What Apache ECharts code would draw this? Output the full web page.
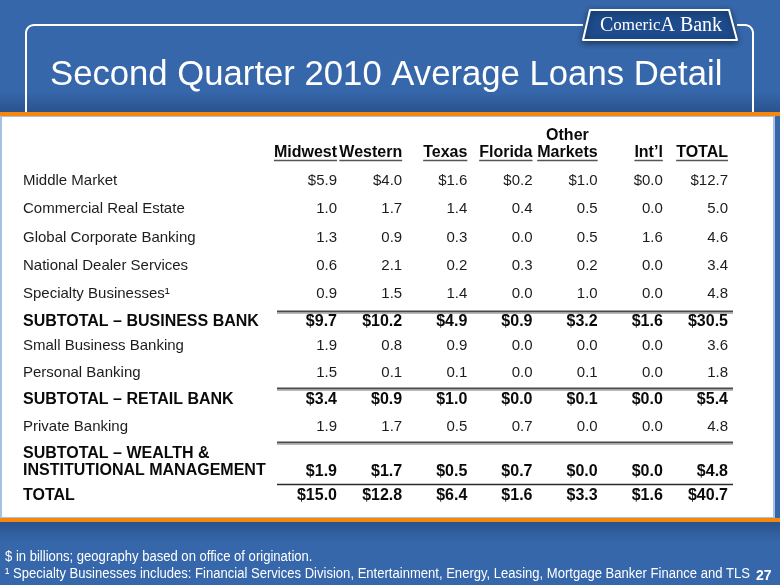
<!DOCTYPE html>
<html><head><meta charset="utf-8">
<script src="https://cdn.jsdelivr.net/npm/echarts@6/dist/echarts.min.js"></script>
<style>html,body{margin:0;padding:0;background:#3667AA}#c{width:780px;height:585px}</style>
</head><body><div id="c"></div>
<script>
// ---------------- DATA ----------------
const titleText = 'Second Quarter 2010 Average Loans Detail';
const columns = ['Midwest', 'Western', 'Texas', 'Florida', 'Other\nMarkets', 'Int’l', 'TOTAL'];
const rowLabels = [
  'Middle Market',
  'Commercial Real Estate',
  'Global Corporate Banking',
  'National Dealer Services',
  'Specialty Businesses¹',
  'SUBTOTAL – BUSINESS BANK',
  'Small Business Banking',
  'Personal Banking',
  'SUBTOTAL – RETAIL BANK',
  'Private Banking',
  'SUBTOTAL – WEALTH &\nINSTITUTIONAL MANAGEMENT',
  'TOTAL'
];
const midwest      = [5.9, 1.0, 1.3, 0.6, 0.9, 9.7, 1.9, 1.5, 3.4, 1.9, 1.9, 15.0];
const western      = [4.0, 1.7, 0.9, 2.1, 1.5, 10.2, 0.8, 0.1, 0.9, 1.7, 1.7, 12.8];
const texas        = [1.6, 1.4, 0.3, 0.2, 1.4, 4.9, 0.9, 0.1, 1.0, 0.5, 0.5, 6.4];
const florida      = [0.2, 0.4, 0.0, 0.3, 0.0, 0.9, 0.0, 0.0, 0.0, 0.7, 0.7, 1.6];
const otherMarkets = [1.0, 0.5, 0.5, 0.2, 1.0, 3.2, 0.0, 0.1, 0.1, 0.0, 0.0, 3.3];
const intl         = [0.0, 0.0, 1.6, 0.0, 0.0, 1.6, 0.0, 0.0, 0.0, 0.0, 0.0, 1.6];
const total        = [12.7, 5.0, 4.6, 3.4, 4.8, 30.5, 3.6, 1.8, 5.4, 4.8, 4.8, 40.7];
const dollarRows = [0, 5, 8, 10, 11];
const boldRows = [5, 8, 10, 11];
const ruledRows = [5, 8, 10, 11];
const footnotes = [
  '$ in billions; geography based on office of origination.',
  '¹ Specialty Businesses includes: Financial Services Division, Entertainment, Energy, Leasing, Mortgage Banker Finance and TLS'
];
const pageNumber = '27';
const seriesValues = [midwest, western, texas, florida, otherMarkets, intl, total];

// ---------------- LAYOUT / STYLE ----------------
const FONT = '"Liberation Sans", Arial, Helvetica, sans-serif';
const SERIF = '"Liberation Serif", "DejaVu Serif", serif';
const BLUE = '#3667AA';
const ORANGE = '#F5870F';
const GRID_LEFT = 337, GRID_WIDTH = 391, LABEL_X = 23;
const sections = [
  { rows: [null, 0, 1, 2, 3, 4, 5], top: 138.9, height: 197.2 },
  { rows: [6, 7, 8, 9], top: 332.5, height: 108 },
  { rows: [10, 11], top: 460, height: 48 }
];
const ruleOffset = { 5: 11, 8: 12, 10: 30, 11: 12 };

const mctx = document.createElement('canvas').getContext('2d');
function textW(str, font) { mctx.font = font; return mctx.measureText(str).width; }

const headerFont = 'bold 16px ' + FONT;

const grids = [], xAxes = [], yAxes = [], series = [];
sections.forEach((sec, si) => {
  grids.push({ left: GRID_LEFT, width: GRID_WIDTH, top: sec.top, height: sec.height });
  xAxes.push({ type: 'category', gridIndex: si, data: columns, boundaryGap: false, show: false });
  yAxes.push({
    type: 'category', gridIndex: si, inverse: true, z: 10,
    data: sec.rows.map(r => r === null ? '' : rowLabels[r]),
    axisLine: { show: false }, axisTick: { show: false }, splitLine: { show: false },
    axisLabel: {
      interval: 0, align: 'left', margin: GRID_LEFT - LABEL_X,
      formatter: (v, idx) => {
        const r = sec.rows[idx];
        if (r === null || r === undefined) return '';
        if (!boldRows.includes(r)) return '{n|' + v + '}';
        const lines = v.split('\n');
        if (lines.length > 1) return lines.map(l => '{b|' + l + '}').join('\n') + '\n{sp| }';
        return '{b|' + v + '}';
      },
      rich: {
        n: { fontFamily: FONT, fontSize: 15, color: '#1c1c1c' },
        b: { fontFamily: FONT, fontSize: 16, fontWeight: 'bold', color: '#0a0a0a', lineHeight: 17 },
        sp: { fontSize: 10, lineHeight: 20 }
      }
    }
  });
  const data = [];
  sec.rows.forEach((r, j) => {
    if (r === null) return;
    seriesValues.forEach((arr, c) => data.push([c, j, arr[r], r]));
  });
  series.push({
    type: 'custom', xAxisIndex: si, yAxisIndex: si, z: 10, silent: true,
    encode: { x: 0, y: 1 }, data,
    renderItem: (params, api) => {
      const c = api.value(0), j = api.value(1), v = api.value(2), r = api.value(3);
      const p = api.coord([c, j]);
      const bold = boldRows.includes(r);
      const txt = (dollarRows.includes(r) ? '$' : '') + v.toFixed(1);
      return {
        type: 'text', x: p[0], y: p[1],
        style: {
          text: txt, align: 'right', verticalAlign: 'middle',
          font: (bold ? 'bold 16px ' : '15px ') + FONT,
          fill: bold ? '#0a0a0a' : '#1c1c1c'
        }
      };
    }
  });
  const ruleData = [];
  sec.rows.forEach((r, j) => { if (r !== null && ruledRows.includes(r)) ruleData.push([0, j, r]); });
  if (ruleData.length) {
    series.push({
      type: 'custom', xAxisIndex: si, yAxisIndex: si, z: 9, silent: true,
      encode: { x: 0, y: 1 }, data: ruleData,
      renderItem: (params, api) => {
        const j = api.value(1), r = api.value(2);
        const a = api.coord([0, j]), b = api.coord([columns.length - 1, j]);
        const y = Math.round(a[1] - ruleOffset[r]) + 0.5;
        const x1 = a[0] - 60, x2 = b[0] + 5;
        const last = r === rowLabels.length - 1;
        if (last) {
          return { type: 'line', shape: { x1, y1: y, x2, y2: y }, style: { stroke: '#2a2a2a', lineWidth: 1.5 } };
        }
        return {
          type: 'group', children: [
            { type: 'line', shape: { x1, y1: y, x2, y2: y }, style: { stroke: '#4a4a4a', lineWidth: 2 } },
            { type: 'line', shape: { x1, y1: y + 2, x2, y2: y + 2 }, style: { stroke: '#b8b8b8', lineWidth: 1 } }
          ]
        };
      }
    });
  }
});

series.push({
  type: 'custom', xAxisIndex: 0, yAxisIndex: 0, z: 10, silent: true,
  encode: { x: 0, y: 1 },
  data: columns.map((_, c) => [c, 0]),
  renderItem: (params, api) => {
    const c = api.value(0);
    const p = api.coord([c, 0]);
    const lines = columns[c].split('\n');
    const ws = lines.map(l => textW(l, headerFont));
    const maxW = Math.max(...ws), lastW = ws[ws.length - 1];
    const cx = p[0] - maxW / 2;
    const uy = Math.round(p[1] + 7) + 0.5;
    return {
      type: 'group', children: [
        { type: 'text', x: cx, y: p[1] + 8, style: { text: columns[c], align: 'center', verticalAlign: 'bottom', lineHeight: 17, font: headerFont, fill: '#0a0a0a' } },
        { type: 'line', shape: { x1: cx - lastW / 2, y1: uy, x2: cx + lastW / 2, y2: uy }, style: { stroke: '#555', lineWidth: 1.5 } }
      ]
    };
  }
});

const FN_FONT = '14px ' + FONT;
const fnScale = 745 / textW(footnotes[1], FN_FONT);

function corner(cx, cy, r, a0, a1, n) {
  const pts = [];
  for (let i = 0; i <= n; i++) {
    const a = a0 + (a1 - a0) * i / n;
    pts.push([cx + r * Math.cos(a), cy + r * Math.sin(a)]);
  }
  return pts;
}
const leftFrame = [[583, 25]].concat(corner(34, 33, 8, -Math.PI / 2, -Math.PI, 8)).concat([[26, 112]]);
const rightFrame = [[737, 25]].concat(corner(745, 33, 8, -Math.PI / 2, 0, 8)).concat([[753, 112]]);
const grad = (c0, c1) => ({ type: 'linear', x: 0, y: 0, x2: 0, y2: 1, colorStops: [{ offset: 0, color: c0 }, { offset: 1, color: c1 }] });

const graphic = [
  { type: 'rect', z: 0, shape: { x: 0, y: 92, width: 780, height: 20 }, style: { fill: grad('rgba(10,30,70,0)', 'rgba(10,30,70,0.28)') } },
  { type: 'polyline', z: 1, shape: { points: leftFrame }, style: { stroke: '#ffffff', lineWidth: 2, fill: null } },
  { type: 'polyline', z: 1, shape: { points: rightFrame }, style: { stroke: '#ffffff', lineWidth: 2, fill: null } },
  { type: 'rect', z: 1, shape: { x: 1, y: 116, width: 773, height: 402 }, style: { fill: '#ffffff', stroke: '#A8C0E2', lineWidth: 2 } },
  { type: 'rect', z: 2, shape: { x: 0, y: 112, width: 780, height: 4 }, style: { fill: ORANGE } },
  { type: 'rect', z: 2, shape: { x: 0, y: 518, width: 780, height: 4 }, style: { fill: ORANGE } },
  { type: 'rect', z: 0, shape: { x: 0, y: 522, width: 780, height: 20 }, style: { fill: grad('rgba(10,30,70,0.28)', 'rgba(10,30,70,0)') } },
  { type: 'polygon', z: 3, shape: { points: [[590, 10], [729, 10], [737, 40], [583, 40]] },
    style: { fill: '#1D4B8B', stroke: '#ffffff', lineWidth: 2, lineJoin: 'round', shadowBlur: 6, shadowColor: 'rgba(0,0,0,0.45)', shadowOffsetY: 2 } },
  { type: 'text', z: 4, x: 661, y: 26,
    style: { text: '{a|C}{s|omeric}{a|A}{a| Bank}', align: 'center', verticalAlign: 'middle',
      rich: {
        a: { fontFamily: SERIF, fontSize: 20, fill: '#ffffff' },
        s: { fontFamily: SERIF, fontSize: 17, fill: '#ffffff' }
      } } },
  { type: 'text', z: 4, x: 5, y: 557, scaleX: fnScale, style: { text: footnotes[0], font: FN_FONT, fill: '#ffffff', verticalAlign: 'middle' } },
  { type: 'text', z: 4, x: 5, y: 574, scaleX: fnScale, style: { text: footnotes[1], font: FN_FONT, fill: '#ffffff', verticalAlign: 'middle' } },
  { type: 'text', z: 4, x: 756, y: 576, style: { text: pageNumber, font: 'bold 14px ' + FONT, fill: '#ffffff', verticalAlign: 'middle' } }
];

const chart = echarts.init(document.getElementById('c'), null, { renderer: 'canvas' });
chart.setOption({
  animation: false,
  backgroundColor: BLUE,
  title: {
    text: titleText, left: 50, top: 55, padding: 0,
    textStyle: { color: '#ffffff', fontFamily: FONT, fontSize: 34.7, fontWeight: 'normal', lineHeight: 40 }
  },
  graphic: { elements: graphic },
  grid: grids, xAxis: xAxes, yAxis: yAxes, series
});
</script>
</body></html>
